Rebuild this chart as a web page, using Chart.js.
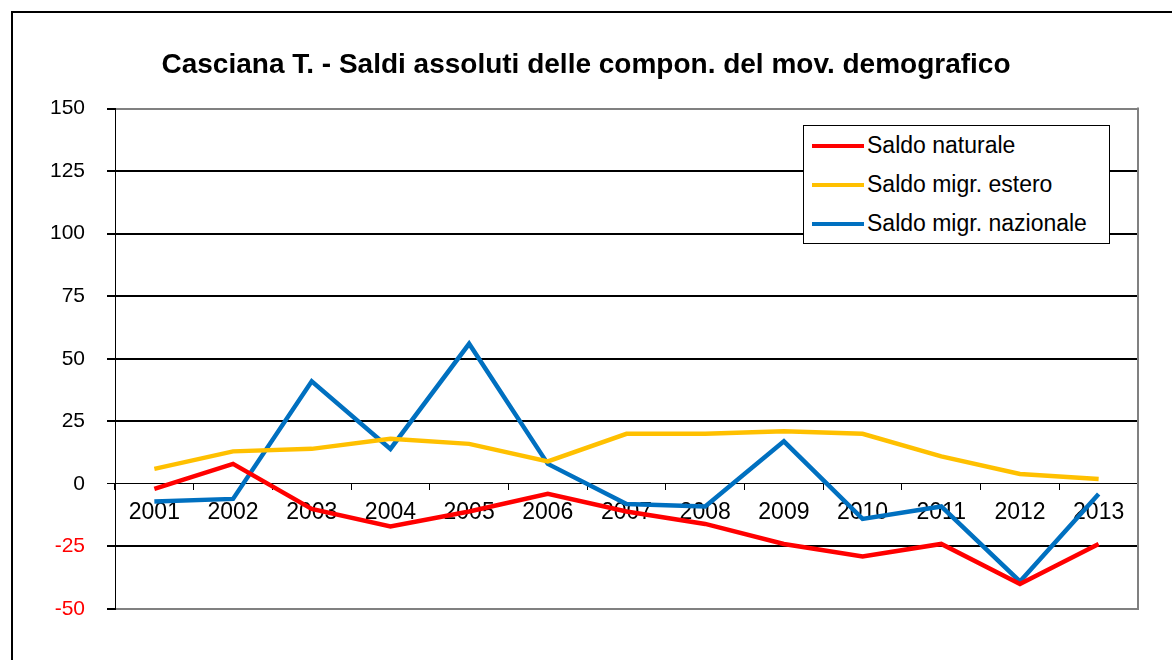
<!DOCTYPE html>
<html>
<head>
<meta charset="utf-8">
<script src="https://cdn.jsdelivr.net/npm/chart.js@4/dist/chart.umd.min.js"></script>
<style>
  body { margin:0; background:#fff; font-family:"Liberation Sans", Arial, sans-serif; }
  #wrap { position:relative; width:1172px; height:660px; overflow:hidden; }
  #frame { position:absolute; left:11px; top:11px; width:1300px; height:800px; border-left:2px solid #000; border-top:2px solid #000; }
  #chart { position:absolute; left:0; top:0; }
  #legend { position:absolute; left:803px; top:125px; width:305px; background:#fff; border:1px solid #000; }
  #legend .row { height:39px; display:flex; align-items:center; font-size:23px; color:#000; }
  #legend .sw { width:52px; height:4px; margin-left:8px; margin-right:3px; }
</style>
</head>
<body>
<div id="wrap">
  <div id="frame"></div>
  <canvas id="chart" width="1172" height="660"></canvas>
  <div id="legend"></div>
</div>
<script>
// dati
const anni = ['2001','2002','2003','2004','2005','2006','2007','2008','2009','2010','2011','2012','2013'];
const saldoNaturale = [-2, 8, -10, -17, -11, -4, -11, -16, -24, -29, -24, -40, -24];
const saldoEstero = [6, 13, 14, 18, 16, 9, 20, 20, 21, 20, 11, 4, 2];
const saldoNazionale = [-7, -6, 41, 14, 56, 8, -8, -9, 17, -14, -9, -39, -4];
const yTicks = [-50, -25, 0, 25, 50, 75, 100, 125, 150];

const serie = [
  { label:'Saldo naturale', data:saldoNaturale, color:'#ff0000' },
  { label:'Saldo migr. estero', data:saldoEstero, color:'#ffc000' },
  { label:'Saldo migr. nazionale', data:saldoNazionale, color:'#0070c0' }
];

const fontFam = '"Liberation Sans", Arial, sans-serif';

// bordo destro del riquadro del grafico
const plotBorder = {
  id:'plotBorder',
  afterDraw(chart) {
    const {ctx, chartArea} = chart;
    ctx.save();
    ctx.strokeStyle = '#808080';
    ctx.lineWidth = 2;
    ctx.beginPath();
    ctx.moveTo(chartArea.right, chartArea.top - 1);
    ctx.lineTo(chartArea.right, chartArea.bottom + 1);
    ctx.stroke();
    ctx.restore();
  }
};

const ctx = document.getElementById('chart');
new Chart(ctx, {
  type:'line',
  data:{
    labels:anni,
    datasets:serie.map(s => ({
      label:s.label, data:s.data, borderColor:s.color, backgroundColor:s.color,
      borderWidth:4.5, pointRadius:0, tension:0, fill:false
    }))
  },
  options:{
    responsive:false,
    animation:false,
    layout:{ padding:{ left:0, right:0, top:0, bottom:51 } },
    plugins:{
      legend:{ display:false },
      tooltip:{ enabled:false },
      title:{
        display:true,
        text:'Casciana T. - Saldi assoluti delle compon. del mov. demografico',
        color:'#000',
        font:{ size:28, weight:'bold', family:fontFam },
        padding:{ top:48, bottom:27 }
      }
    },
    scales:{
      x:{
        type:'category',
        offset:true,
        position:{ y:0 },
        grid:{ drawOnChartArea:false, offset:true, tickLength:6, color:'#000', lineWidth:1 },
        border:{ color:'#000', width:1 },
        ticks:{ color:'#000', padding:9, maxRotation:0, autoSkip:false,
                font:{ size:23, family:fontFam } }
      },
      y:{
        min:-50, max:150,
        afterFit(scale) { scale.width = 115; },
        afterBuildTicks(scale) { scale.ticks = yTicks.map(v => ({ value:v })); },
        grid:{
          color:c => (c.tick && (c.tick.value === 150 || c.tick.value === -50)) ? '#808080' : '#000',
          lineWidth:c => (c.tick && c.tick.value === 0) ? 1 : 2,
          tickColor:'#000',
          tickLength:8
        },
        border:{ color:'#000', width:1 },
        ticks:{
          padding:22,
          color:c => c.tick.value < 0 ? '#ff0000' : '#000',
          font:{ size:21, family:fontFam }
        }
      },
      // spazio vuoto a destra del grafico
      yR:{
        position:'right',
        afterFit(scale) { scale.width = 34; },
        grid:{ display:false },
        border:{ display:false },
        ticks:{ display:false }
      }
    }
  },
  plugins:[plotBorder]
});

// legenda
document.getElementById('legend').innerHTML = serie.map(s =>
  `<div class="row"><span class="sw" style="background:${s.color}"></span>${s.label}</div>`
).join('');
</script>
</body>
</html>
